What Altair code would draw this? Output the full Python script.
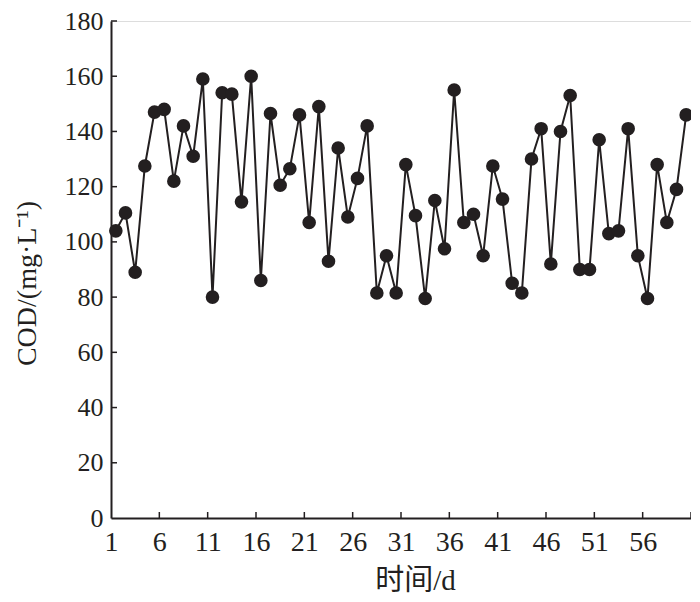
import altair as alt
import pandas as pd

days = list(range(1, 61))
cod = [104, 110.5, 89, 127.5, 147, 148, 122, 142, 131, 159,
       80, 154, 153.5, 114.5, 160, 86, 146.5, 120.5, 126.5, 146,
       107, 149, 93, 134, 109, 123, 142, 81.5, 95, 81.5,
       128, 109.5, 79.5, 115, 97.5, 155, 107, 110, 95, 127.5,
       115.5, 85, 81.5, 130, 141, 92, 140, 153, 90, 90,
       137, 103, 104, 141, 95, 79.5, 128, 107, 119, 146]
x_tick_labels = [1, 6, 11, 16, 21, 26, 31, 36, 41, 46, 51, 56, 61]
y_ticks = [20, 40, 60, 80, 100, 120, 140, 160, 180]

W, H = 580, 497
INK = "#231f20"
FONT = "Liberation Serif, Noto Sans CJK SC"

df = pd.DataFrame({"day": days, "cod": cod})
xt = pd.DataFrame({"lab": x_tick_labels[1:]})
yt = pd.DataFrame({"v": y_ticks})

xscale = alt.Scale(domain=[0, 60], nice=False, zero=False)
yscale = alt.Scale(domain=[0, 180], nice=False)

base = alt.Chart(df).transform_calculate(pos="datum.day - 0.5")

common = dict(labelFont=FONT, titleFont=FONT, titleFontWeight="normal",
              labelColor=INK, titleColor=INK, domainColor=INK, domainWidth=2,
              tickSize=0, grid=False, labelFlush=False, labelOverlap=False)

xaxis = alt.Axis(values=[v - 1 for v in x_tick_labels[:-1]], labelExpr="datum.value + 1",
                 title="时间/d", titleX=304, titleY=71, titleBaseline="alphabetic",
                 titleFontSize=29, labelFontSize=28, labelPadding=10, **common)
yaxis = alt.Axis(values=[0] + y_ticks, title="COD/(mg·L⁻¹)", titleX=-84, titleY=262,
                 titleBaseline="middle", titleFontSize=28, labelFontSize=26,
                 labelPadding=8, **common)

line = base.mark_line(color=INK, strokeWidth=2).encode(
    x=alt.X("pos:Q", scale=xscale, axis=xaxis),
    y=alt.Y("cod:Q", scale=yscale, axis=yaxis),
)
pts = base.mark_point(filled=True, color=INK, size=185, opacity=1, shape="circle").encode(
    x=alt.X("pos:Q", scale=xscale, title="时间/d"),
    y=alt.Y("cod:Q", scale=yscale, title="COD/(mg·L⁻¹)"),
)
xticks = alt.Chart(xt).transform_calculate(pos="datum.lab - 1").mark_rule(
    color=INK, strokeWidth=1.5).encode(
    x=alt.X("pos:Q", scale=xscale, title="时间/d"),
    y=alt.value(H),
    y2=alt.value(H - 6),
)
yticks = alt.Chart(yt).transform_calculate(cod="datum.v").mark_rule(
    color=INK, strokeWidth=1.5).encode(
    y=alt.Y("cod:Q", scale=yscale, title="COD/(mg·L⁻¹)"),
    x=alt.value(0),
    x2=alt.value(6),
)

chart = alt.layer(line, pts, xticks, yticks).properties(
    width=W, height=H,
    padding={"left": 103, "top": 13, "right": 0, "bottom": 76},
    autosize=alt.AutoSizeParams(type="none"),
).configure_view(strokeWidth=0, stroke="transparent").configure(background="white")

chart.save("out.html", embed_options={"renderer": "svg", "actions": False})
